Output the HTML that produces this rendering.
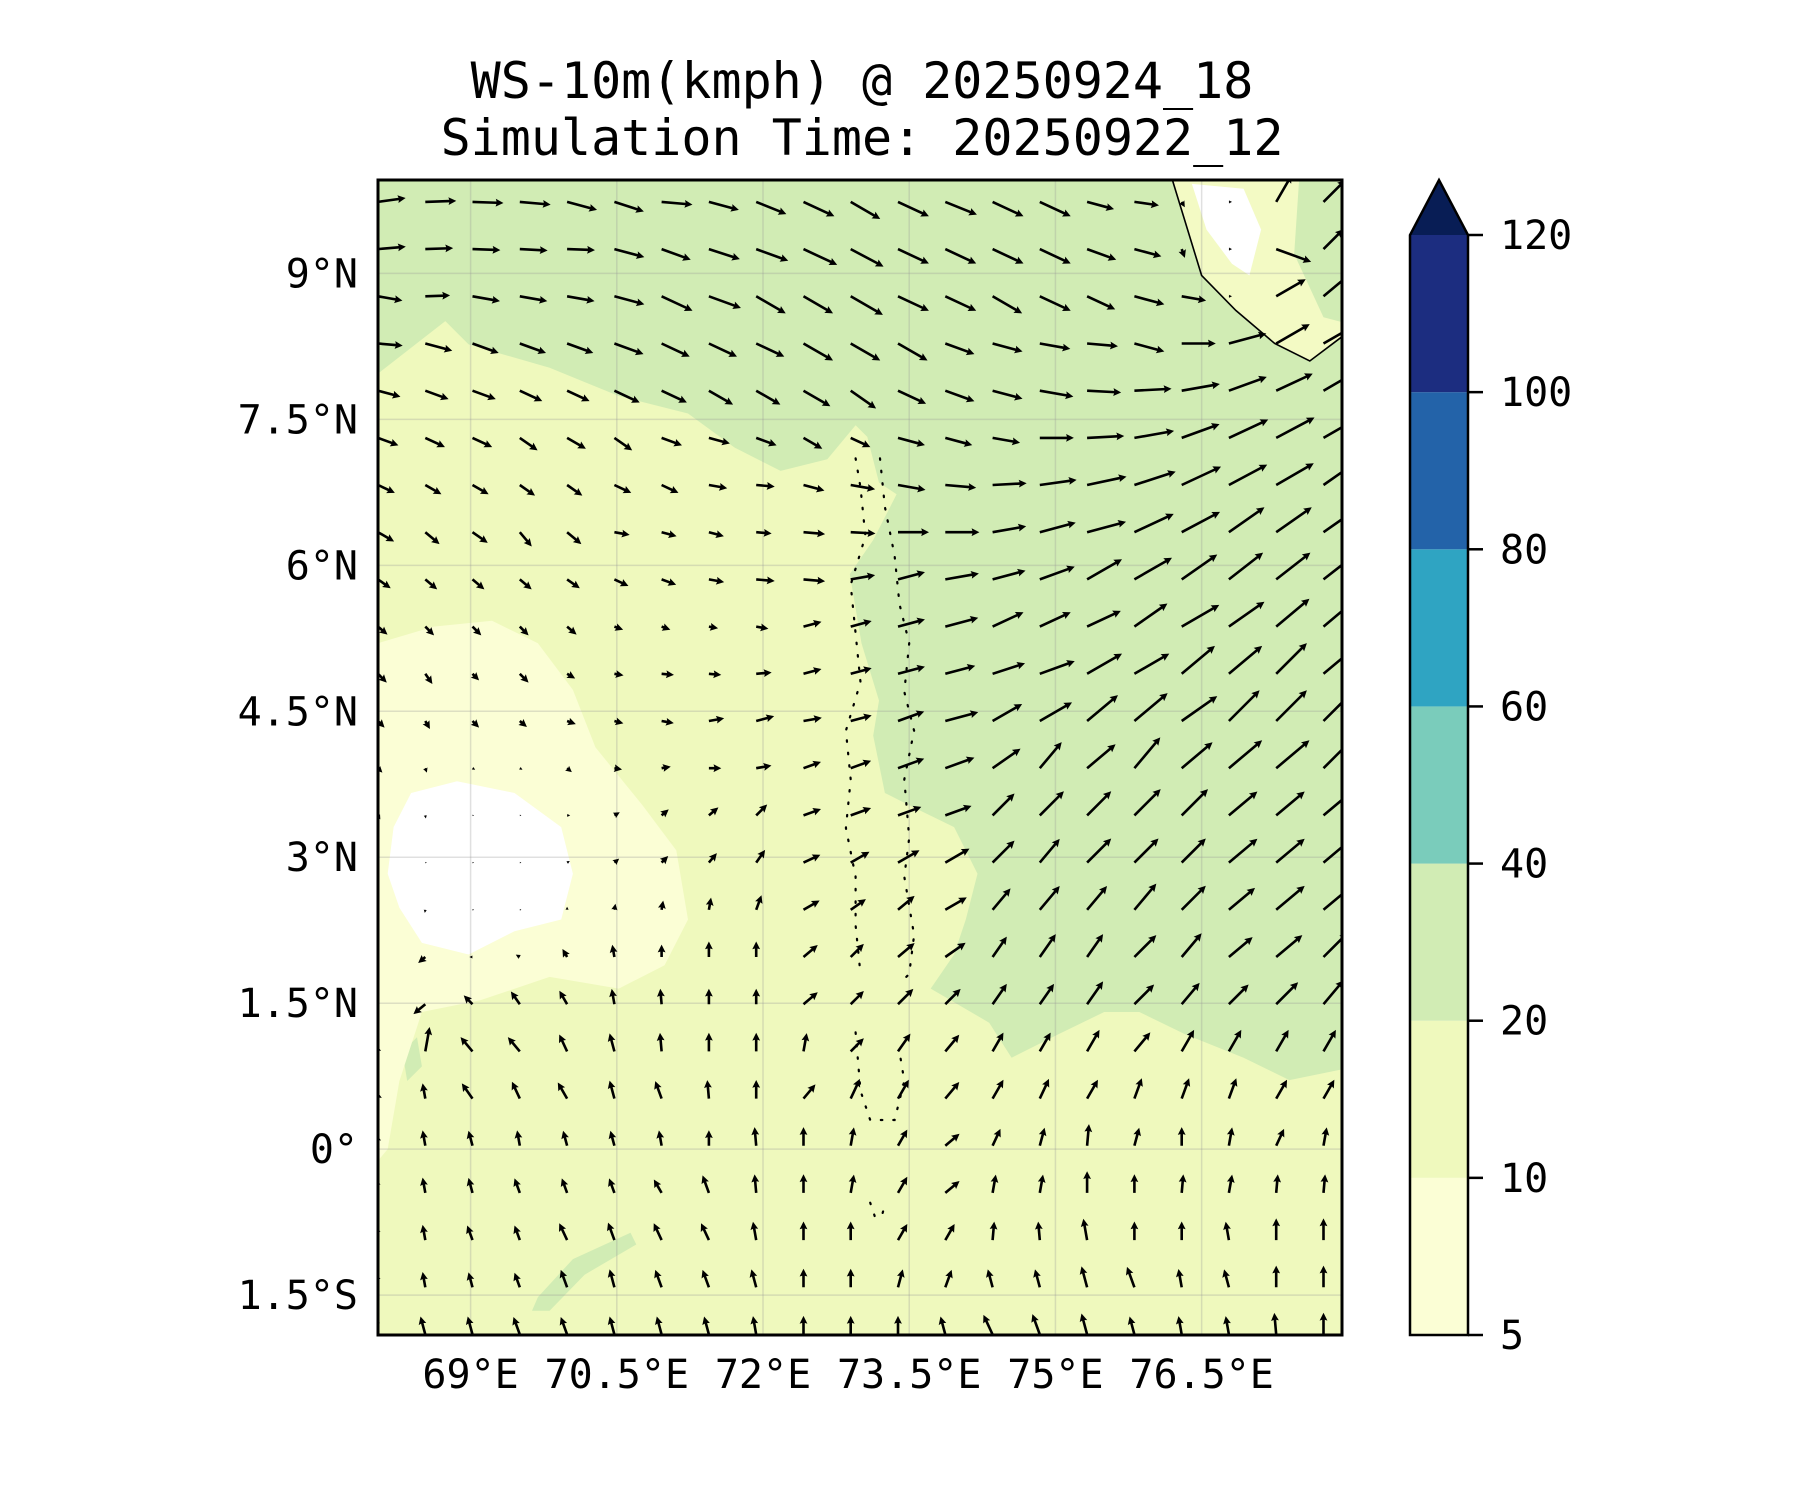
<!DOCTYPE html>
<html>
<head>
<meta charset="utf-8">
<style>
  html,body{margin:0;padding:0;background:#fff;}
  svg{display:block;}
  text{font-family:"DejaVu Sans Mono","Liberation Mono",monospace;fill:#000;}
</style>
</head>
<body>
<svg id="chart" width="1800" height="1500" viewBox="0 0 1800 1500" xmlns="http://www.w3.org/2000/svg">
  <defs>
    <clipPath id="plotClip"><rect x="378" y="180" width="964" height="1155"/></clipPath>
  </defs>
  <text x="862" y="98" font-size="50" text-anchor="middle">WS-10m(kmph) @ 20250924_18</text>
  <text x="862" y="155" font-size="50" text-anchor="middle">Simulation Time: 20250922_12</text>
  <g id="mapLayer" clip-path="url(#plotClip)"></g>
  <g id="axisLayer"></g>
  <g id="cbarLayer"></g>
</svg>
<script>
// ---------- data ----------
const lonTicks = [69, 70.5, 72, 73.5, 75, 76.5];
const lonTickLabels = ["69°E", "70.5°E", "72°E", "73.5°E", "75°E", "76.5°E"];
const latTicks = [9, 7.5, 6, 4.5, 3, 1.5, 0, -1.5];
const latTickLabels = ["9°N", "7.5°N", "6°N", "4.5°N", "3°N", "1.5°N", "0°", "1.5°S"];
const cbarLevels = [5, 10, 20, 40, 60, 80, 100, 120];
const cbarColors = ["#fbfed5", "#eff9bd", "#d1ecb4", "#7accbb", "#2fa4c2", "#2363a9", "#1c2d80"];
const cbarExtendColor = "#081d55";

// wind grid
const gridLon0 = 68.05, gridLat0 = 9.735, gridStep = 0.485;
// wind direction (deg, 0=east, 90=north) per row (north -> south)
const windDir = [
  [8,2,-2,-5,-15,-18,-5,-15,-22,-25,-30,-25,-22,-25,-25,-15,-8,-60,0,60,45],
  [5,2,-2,-3,-2,-15,-20,-18,-20,-25,-28,-25,-25,-25,-25,-20,-15,-70,0,-20,45],
  [-10,2,-10,-10,-10,-15,-25,-20,-30,-30,-30,-25,-25,-30,-25,-25,-15,-10,0,30,40],
  [-5,-15,-20,-20,-20,-20,-25,-25,-25,-30,-30,-30,-20,-15,-10,-5,-15,0,15,30,30],
  [-15,-20,-20,-25,-25,-25,-25,-30,-30,-30,-35,-25,-20,-15,-10,-3,3,10,20,25,30],
  [-20,-25,-25,-35,-30,-35,-20,-15,-20,-30,-25,-15,-15,-10,0,3,10,20,25,28,30],
  [-25,-30,-30,-35,-35,-25,-25,-10,-5,-15,-10,-10,-5,3,8,12,18,25,28,30,35],
  [-30,-40,-35,-50,-40,-10,-15,-15,-5,-5,-3,0,0,10,15,15,25,28,35,35,35],
  [-35,-40,-40,-40,-35,-25,-20,-10,-5,-5,10,15,10,15,20,30,30,35,38,38,38],
  [-40,-45,-45,-45,-40,-20,-20,-10,-10,15,15,15,15,25,25,25,35,30,35,40,40],
  [-45,-55,-45,-45,-30,-10,-5,-5,5,15,15,15,15,18,20,30,30,40,40,45,40],
  [-45,-60,-45,-40,-20,-15,-10,10,15,10,15,20,15,30,30,40,40,35,45,45,45],
  [-45,-70,-30,-30,-40,-10,10,0,10,20,20,20,20,35,50,40,50,40,40,40,45],
  [-60,-80,0,0,0,30,40,40,45,20,20,20,20,45,45,45,45,45,40,40,40],
  [0,0,0,0,30,40,45,50,55,25,30,30,30,45,50,45,45,45,40,40,40],
  [0,-100,0,0,90,80,80,80,70,30,35,40,30,50,50,50,50,45,40,40,40],
  [200,220,180,150,120,100,90,90,90,40,45,40,35,55,55,55,45,50,40,40,45],
  [200,220,135,125,120,100,95,90,90,40,45,45,45,55,55,55,45,50,45,45,50],
  [100,80,130,130,115,105,95,90,90,80,45,55,50,60,60,60,50,60,60,60,60],
  [100,100,125,115,120,105,110,95,90,50,65,60,50,60,65,60,70,70,70,60,60],
  [100,100,105,100,105,105,100,90,95,90,80,60,40,65,75,85,75,90,80,65,80],
  [100,100,105,110,110,110,120,110,95,90,80,60,40,80,80,90,90,85,80,85,85],
  [100,100,110,110,115,110,115,115,100,90,90,60,60,85,95,100,90,90,100,90,90],
  [100,100,105,110,110,105,110,110,105,90,90,75,70,105,105,105,110,100,105,90,90],
  [100,105,105,110,110,105,105,105,100,90,90,90,105,115,110,105,105,100,100,95,90]
];
// wind speed (kmph) per row
const windSpeed = [
  [18,20,20,20,20,20,20,20,21,22,22,22,22,22,22,18,16,4,2,20,20],
  [18,18,18,18,18,20,20,21,22,24,24,22,22,22,22,20,18,6,2,24,18],
  [16,16,18,18,18,20,22,22,22,22,24,22,22,22,22,20,20,16,2,22,22],
  [16,18,18,18,18,20,20,20,20,22,22,22,20,20,20,20,20,22,25,25,25],
  [15,16,16,16,16,18,18,18,18,20,20,20,20,20,22,22,24,25,26,26,26],
  [14,14,14,14,14,14,14,14,14,14,14,18,18,18,22,24,26,26,28,28,28],
  [12,12,12,12,12,12,12,12,12,14,16,18,20,22,24,26,28,28,28,28,30],
  [12,12,12,12,12,10,10,10,10,14,16,20,22,22,24,26,28,28,28,28,30],
  [10,10,10,10,10,10,10,10,12,14,16,18,22,22,24,26,28,28,28,28,30],
  [8,8,8,8,8,6,6,6,8,12,14,18,22,22,22,24,26,28,28,28,30],
  [8,8,6,8,6,6,8,8,10,12,14,18,20,22,24,26,26,28,28,28,30],
  [6,6,6,6,6,6,8,10,12,12,14,18,22,22,24,26,28,28,28,28,30],
  [4,3,2,2,4,5,6,8,10,12,14,18,20,22,22,24,26,26,28,28,28],
  [3,2,1,1,2,4,6,8,10,12,14,16,18,20,22,22,24,24,24,24,24],
  [1,1,1,1,2,4,6,8,10,12,14,16,18,20,20,22,22,22,24,24,24],
  [1,2,1,1,2,4,6,8,10,12,12,14,16,18,20,20,22,22,22,24,24],
  [3,6,2,3,6,8,8,10,10,12,12,14,16,16,18,18,20,20,20,22,22],
  [4,10,8,10,10,10,10,10,10,12,12,14,14,16,16,18,18,18,18,20,20],
  [4,16,12,12,12,12,12,12,12,12,12,14,14,14,14,16,16,16,16,16,16],
  [5,10,12,12,12,12,12,12,12,12,14,14,14,14,14,14,14,14,14,14,14],
  [8,10,10,10,10,10,10,10,12,12,12,12,12,12,12,14,12,12,12,12,12],
  [10,10,10,10,10,10,10,12,12,12,12,12,12,12,12,14,12,12,12,12,12],
  [10,10,10,10,12,12,12,12,12,12,12,12,12,12,12,14,12,12,12,14,14],
  [10,10,10,10,12,12,12,12,12,12,12,12,12,12,12,14,14,12,12,14,14],
  [12,12,12,12,12,12,12,12,12,12,12,12,12,14,14,14,12,12,12,14,14]
];

// filled contour regions (lon, lat)
const greenZone = [[68.05,9.96],[77.94,9.96],[77.94,0.82],[77.4,0.71],[76.93,0.94],[76.33,1.18],[75.86,1.41],[75.5,1.41],[75.03,1.18],[74.55,0.94],[74.32,1.3],[73.72,1.65],[73.96,2.0],[74.08,2.36],[74.2,2.83],[73.96,3.31],[73.49,3.54],[73.25,3.66],[73.13,4.25],[73.19,4.61],[73.01,5.2],[72.89,5.91],[73.13,6.26],[73.37,6.73],[73.19,6.85],[73.07,7.32],[72.95,7.44],[72.66,7.09],[72.18,6.97],[71.71,7.21],[71.23,7.56],[70.52,7.74],[69.81,8.03],[68.98,8.27],[68.74,8.51],[68.05,7.97]];
const greenPatchSouth = [[69.63,-1.66],[69.69,-1.52],[70.05,-1.13],[70.64,-0.86],[70.7,-0.98],[70.17,-1.29],[69.81,-1.66]];
const greenPatchWest = [[68.3,1.0],[68.45,1.15],[68.5,0.85],[68.35,0.7]];
const paleZone = [[68.05,5.2],[68.62,5.37],[69.22,5.43],[69.69,5.2],[70.05,4.72],[70.28,4.13],[70.76,3.54],[71.11,3.07],[71.23,2.36],[70.99,1.89],[70.52,1.65],[69.81,1.77],[69.1,1.53],[68.5,1.41],[68.27,0.7],[68.15,0],[68.05,-0.12]];
const whiteZone = [[68.39,3.66],[68.86,3.78],[69.45,3.66],[69.93,3.31],[70.05,2.83],[69.93,2.36],[69.45,2.24],[68.98,2.0],[68.5,2.12],[68.27,2.48],[68.15,2.83],[68.21,3.31]];
const landIndia = [[76.2,9.96],[76.5,8.98],[76.85,8.62],[77.25,8.28],[77.61,8.1],[77.94,8.35],[77.94,9.96]];
const landWhite = [[76.4,9.92],[76.93,9.87],[77.11,9.45],[76.99,8.98],[76.81,9.1],[76.55,9.45]];
const landGreen = [[77.5,9.96],[77.94,9.96],[77.94,8.5],[77.75,8.55],[77.45,9.2]];
const maldivesWest = [[72.95,7.1],[73.0,6.8],[73.05,6.3],[72.9,5.8],[72.95,5.3],[73.0,4.8],[72.85,4.3],[72.9,3.8],[72.85,3.3],[72.95,2.8],[72.95,2.3],[73.0,1.8]];
const maldivesEast = [[73.2,7.1],[73.25,6.6],[73.35,6.1],[73.4,5.6],[73.5,5.2],[73.45,4.7],[73.55,4.3],[73.45,3.8],[73.5,3.2],[73.45,2.8],[73.55,2.2],[73.5,1.8],[73.4,1.7]];
const maldivesSouth = [[72.95,1.2],[73.0,0.6],[73.1,0.3],[73.35,0.3],[73.45,0.7],[73.4,1.0]];
const adduAtoll = [[73.1,-0.55],[73.15,-0.7],[73.22,-0.68],[73.25,-0.58]];

// ---------- axes ----------
const plot = {x0:378, x1:1342, y0:180, y1:1335, lonMin:68.05, lonMax:77.94, latMin:-1.91, latMax:9.96};
function X(lon){ return plot.x0 + (lon - plot.lonMin) / (plot.lonMax - plot.lonMin) * (plot.x1 - plot.x0); }
function Y(lat){ return plot.y0 + (plot.latMax - lat) / (plot.latMax - plot.latMin) * (plot.y1 - plot.y0); }
const cb = {x0:1410, x1:1468, y0:235, y1:1335, tip:180};
function CY(i){ return cb.y1 - i * (cb.y1 - cb.y0) / (cbarLevels.length - 1); }

const NS = "http://www.w3.org/2000/svg";
function mk(tag, attrs, parent){
  const e = document.createElementNS(NS, tag);
  for (const k in attrs) e.setAttribute(k, attrs[k]);
  parent.appendChild(e);
  return e;
}
function pts(arr){ return arr.map(p => X(p[0]).toFixed(1) + "," + Y(p[1]).toFixed(1)).join(" "); }

const mapLayer = document.getElementById("mapLayer");
const axisLayer = document.getElementById("axisLayer");
const cbarLayer = document.getElementById("cbarLayer");

let bg = mk("rect", {x:plot.x0, y:plot.y0, width:plot.x1-plot.x0, height:plot.y1-plot.y0, fill:cbarColors[1]}, mapLayer);



function region(arr, fill, name){
  const p = mk("polygon", {points: pts(arr), fill: fill}, mapLayer);
  
  
}
region(greenZone, cbarColors[2], "contour-20-40-north-east");
region(greenPatchSouth, cbarColors[2], "contour-20-40-south-patch");
region(greenPatchWest, cbarColors[2], "contour-20-40-west-patch");
region(paleZone, cbarColors[0], "contour-5-10-west");
region(whiteZone, "#ffffff", "contour-below-5");
region(landIndia, "#f3fac4", "land-india");
region(landWhite, "#ffffff", "land-india-calm");
region(landGreen, cbarColors[2], "land-india-ghats");

lonTicks.forEach(function(lon){
  const l = mk("line", {x1:X(lon), x2:X(lon), y1:plot.y0, y2:plot.y1, stroke:"#999", "stroke-opacity":"0.3", "stroke-width":"1.5"}, mapLayer);
  
  
});
latTicks.forEach(function(lat){
  const l = mk("line", {x1:plot.x0, x2:plot.x1, y1:Y(lat), y2:Y(lat), stroke:"#999", "stroke-opacity":"0.3", "stroke-width":"1.5"}, mapLayer);
  
  
});

const coast = mk("polyline", {points: pts(landIndia.slice(0,6)), fill:"none", stroke:"#000", "stroke-width":"1.6"}, mapLayer);


[maldivesWest, maldivesEast, maldivesSouth, adduAtoll].forEach(function(arr){
  const m = mk("polyline", {points: pts(arr), fill:"none", stroke:"#000", "stroke-width":"2.2", "stroke-dasharray":"1.5 11", "stroke-linecap":"round"}, mapLayer);
  
  
});

const pxPerKmph = 1.55;
const arrowsG = mk("g", {}, mapLayer);


for (let j = 0; j < windDir.length; j++){
  for (let i = 0; i < windDir[j].length; i++){
    const lon = gridLon0 + gridStep * i;
    const lat = gridLat0 - gridStep * j;
    const L = windSpeed[j][i] * pxPerKmph;
    let h = 1.3, hl = 7.8, hw = 3.9, hal = 7.0;
    let f = 1;
    if (L < hl) f = L / hl;
    h *= f; hl *= f; hw *= f; hal *= f;
    const poly = [[0,-h],[L-hal,-h],[L-hl,-hw],[L,0],[L-hl,hw],[L-hal,h],[0,h]]
      .map(p => p[0].toFixed(2) + "," + p[1].toFixed(2)).join(" ");
    const a = mk("polygon", {points: poly, fill:"#000",
      transform: "translate(" + X(lon).toFixed(1) + "," + Y(lat).toFixed(1) + ") rotate(" + (-windDir[j][i]) + ")"}, arrowsG);
    
    
  }
}

const frame = mk("rect", {x:plot.x0, y:plot.y0, width:plot.x1-plot.x0, height:plot.y1-plot.y0, fill:"none", stroke:"#000", "stroke-width":"3"}, axisLayer);



lonTicks.forEach(function(lon, k){
  const t = mk("text", {x:X(lon), y:1388, "font-size":"40", "text-anchor":"middle"}, axisLayer);
  t.textContent = lonTickLabels[k];
  
  
});
latTicks.forEach(function(lat, k){
  const t = mk("text", {x:358, y:Y(lat)+14, "font-size":"40", "text-anchor":"end"}, axisLayer);
  t.textContent = latTickLabels[k];
  
  
});

for (let k = 0; k < cbarColors.length; k++){
  const r = mk("rect", {x:cb.x0, y:CY(k+1), width:cb.x1-cb.x0, height:CY(k)-CY(k+1), fill:cbarColors[k]}, cbarLayer);
  
  
}
const ext = mk("polygon", {points: cb.x0+","+cb.y0+" "+((cb.x0+cb.x1)/2)+","+cb.tip+" "+cb.x1+","+cb.y0, fill:cbarExtendColor}, cbarLayer);


const cbOutline = mk("polygon", {points: cb.x0+","+cb.y1+" "+cb.x0+","+cb.y0+" "+((cb.x0+cb.x1)/2)+","+cb.tip+" "+cb.x1+","+cb.y0+" "+cb.x1+","+cb.y1, fill:"none", stroke:"#000", "stroke-width":"2.5"}, cbarLayer);


cbarLevels.forEach(function(v, k){
  const tk = mk("line", {x1:cb.x1, x2:cb.x1+15, y1:CY(k), y2:CY(k), stroke:"#000", "stroke-width":"2.5"}, cbarLayer);
  
  
  const t = mk("text", {x:1500, y:CY(k)+14, "font-size":"40"}, cbarLayer);
  t.textContent = String(v);
  
  
});
</script>
</body>
</html>
